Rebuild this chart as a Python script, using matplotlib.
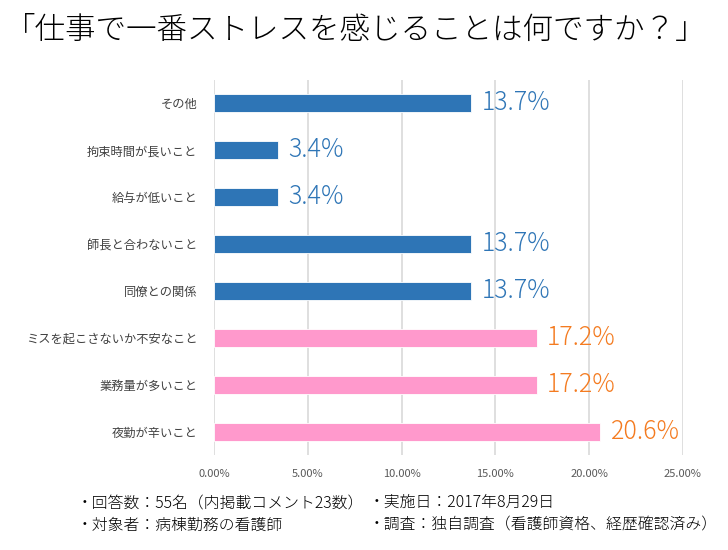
import matplotlib
matplotlib.use("Agg")
import matplotlib.pyplot as plt
from matplotlib.ticker import FuncFormatter

plt.rcParams['font.family'] = ['Noto Sans CJK JP', 'DejaVu Sans']

# data (top to bottom as shown)
categories = ['その他', '拘束時間が長いこと', '給与が低いこと', '師長と合わないこと',
              '同僚との関係', 'ミスを起こさないか不安なこと', '業務量が多いこと', '夜勤が辛いこと']
values = [13.7, 3.4, 3.4, 13.7, 13.7, 17.2, 17.2, 20.6]
highlight = [False, False, False, False, False, True, True, True]
xticks = [0, 5, 10, 15, 20, 25]

title = '「仕事で一番ストレスを感じることは何ですか？」'
notes_left = ['・回答数：55名（内掲載コメント23数）', '・対象者：病棟勤務の看護師']
notes_right = ['・実施日：2017年8月29日', '・調査：独自調査（看護師資格、経歴確認済み）']

blue = '#2E75B6'
pink = '#FF99CC'
orange = '#F47B20'

fig = plt.figure(figsize=(7.28, 5.5), dpi=100)
ax = fig.add_axes([0.294, 0.172, 0.644, 0.683])

ypos = list(range(len(categories)))
bar_colors = [pink if h else blue for h in highlight]
ax.barh(ypos, values, height=0.38, color=bar_colors, edgecolor='white', linewidth=0.6, zorder=3)

for y, v, h in zip(ypos, values, highlight):
    ax.text(v + 0.55, y, f'{v:.1f}%', va='center', ha='left', fontsize=18,
            fontweight='light', color=orange if h else blue, zorder=4)

ax.set_ylim(len(categories) - 0.5, -0.5)
ax.set_yticks(ypos)
ax.set_yticklabels(categories, fontsize=8.8, color='#404040')
ax.set_xlim(0, 25)
ax.set_xticks(xticks)
ax.xaxis.set_major_formatter(FuncFormatter(lambda x, p: f'{x:.2f}%'))
ax.tick_params(axis='x', labelsize=8, colors='#595959', length=0, pad=10)
ax.tick_params(axis='y', length=0, pad=12)
ax.grid(axis='x', color='#D9D9D9', linewidth=1.2, zorder=0)
for s in ax.spines.values():
    s.set_visible(False)

fig.text(0.488, 0.945, title, ha='center', va='center', fontsize=22,
         fontweight='light', color='#000000')

for i, line in enumerate(notes_left):
    fig.text(0.105, 1 - (503 + i * 22) / 550, line, ha='left', va='center',
             fontsize=11.4, fontweight='light', color='#000000')
for i, line in enumerate(notes_right):
    fig.text(0.507, 1 - (502 + i * 22) / 550, line, ha='left', va='center',
             fontsize=11.4, fontweight='light', color='#000000')

fig.savefig('out.png', dpi=100)
